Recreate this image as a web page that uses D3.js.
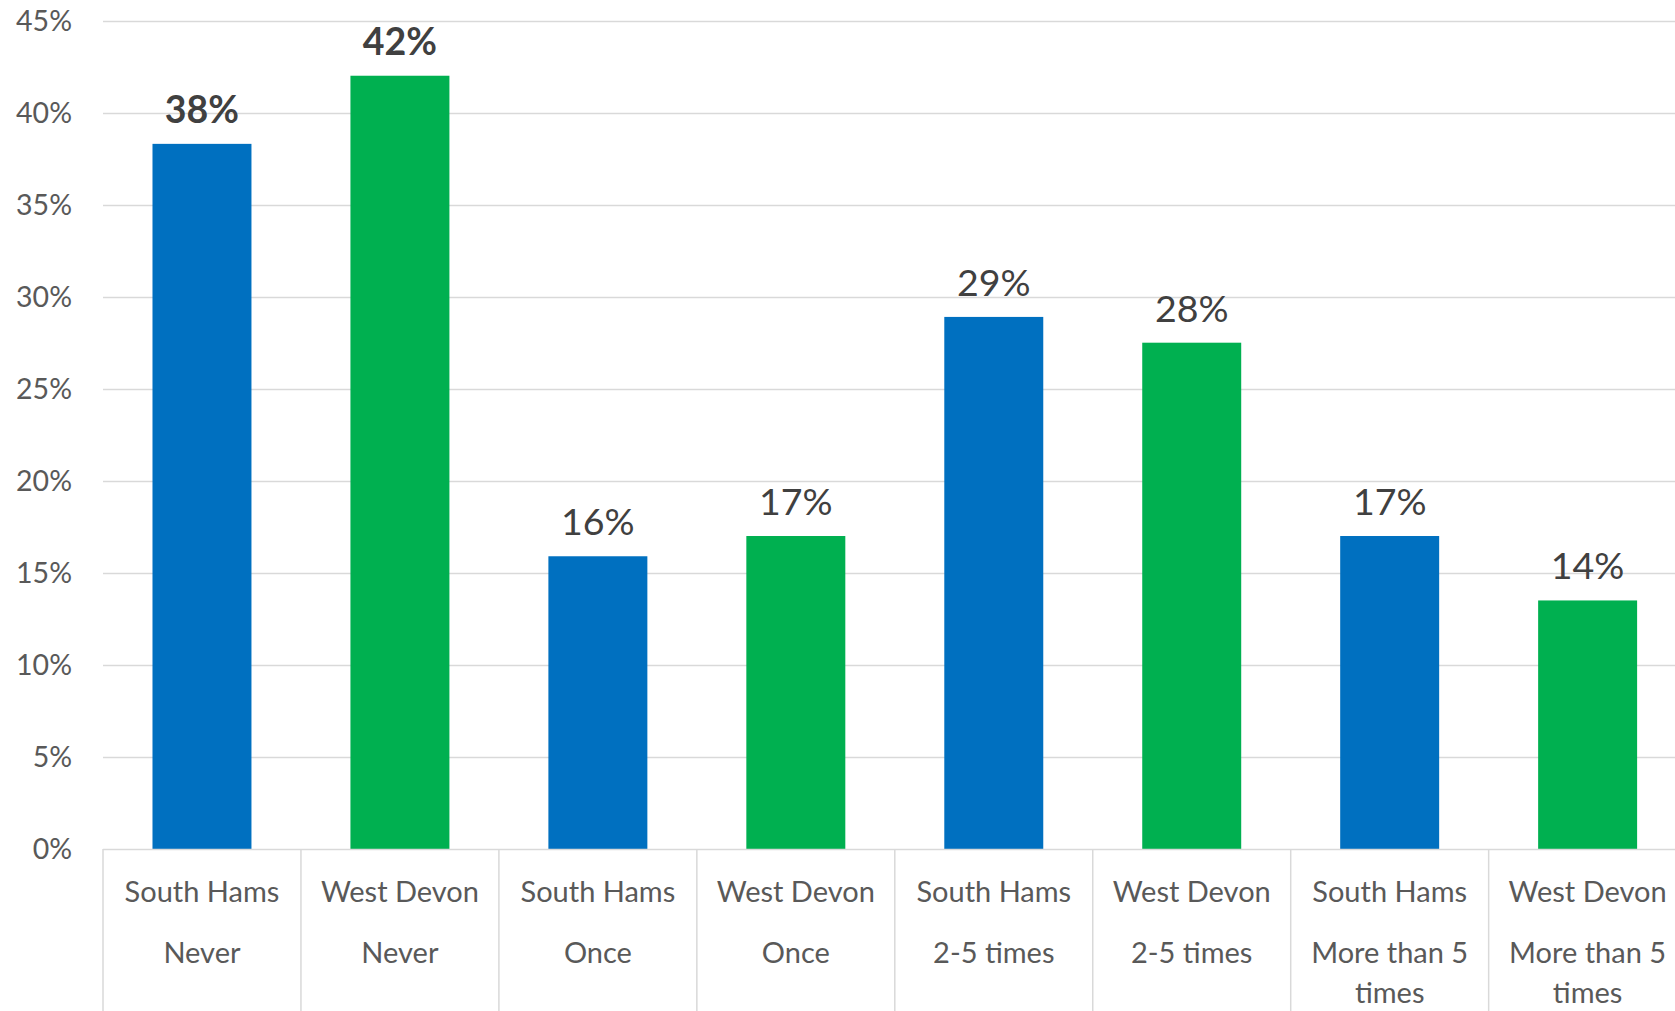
<!DOCTYPE html>
<html>
<head>
<meta charset="utf-8">
<script src="https://cdn.jsdelivr.net/npm/d3@7"></script>
<style>
  html, body { margin: 0; padding: 0; background: #fff; overflow: hidden; }
  svg { display: block; }
</style>
</head>
<body>
<svg id="chart" width="1675" height="1011"></svg>
<script>
// ---- Data ----
const regions = ["South Hams", "West Devon", "South Hams", "West Devon", "South Hams", "West Devon", "South Hams", "West Devon"];
const frequencies = [["Never"], ["Never"], ["Once"], ["Once"], ["2-5 times"], ["2-5 times"], ["More than 5", "times"], ["More than 5", "times"]];
const values = [38.3, 42.0, 15.9, 17.0, 28.9, 27.5, 17.0, 13.5];
const valueLabels = ["38%", "42%", "16%", "17%", "29%", "28%", "17%", "14%"];
const boldLabels = [true, true, false, false, false, false, false, false];
const yTicks = [0, 5, 10, 15, 20, 25, 30, 35, 40, 45];
const colors = { "South Hams": "#0070C0", "West Devon": "#00B050" };

// ---- Layout ----
const svg = d3.select("#chart");
const plotLeft = 103, bandW = 197.95;
const y0 = 849, yTop = 20.5;
const FONT = "Lato, 'Open Sans', sans-serif";

const idx = d3.range(values.length);
const x = d3.scaleBand().domain(idx).range([plotLeft, plotLeft + bandW * idx.length]).paddingInner(0).paddingOuter(0);
const y = d3.scaleLinear().domain([0, 45]).range([y0, yTop]);

// gridlines
svg.append("g").selectAll("line").data(yTicks.filter(t => t > 0)).join("line")
  .attr("x1", plotLeft).attr("x2", 1675)
  .attr("y1", d => Math.round(y(d)) + 0.5).attr("y2", d => Math.round(y(d)) + 0.5)
  .attr("stroke", "#d9d9d9").attr("stroke-width", 1.5);

// y axis labels
const yAxis = d3.axisLeft(y).tickValues(yTicks).tickFormat(d => d + "%").tickSize(0).tickPadding(0);
const ya = svg.append("g").attr("transform", "translate(72,0)").call(yAxis);
ya.select(".domain").remove();
ya.selectAll("text").attr("font-family", FONT).attr("font-size", 28.5).attr("fill", "#595959").attr("dy", "0.35em");

// bars
const barW = x.bandwidth() * 0.5;
svg.append("g").selectAll("rect").data(idx).join("rect")
  .attr("x", i => x(i) + (x.bandwidth() - barW) / 2)
  .attr("width", barW)
  .attr("y", i => y(values[i]))
  .attr("height", i => y0 - y(values[i]))
  .attr("fill", i => colors[regions[i]]);

// data labels
svg.append("g").selectAll("text").data(idx).join("text")
  .attr("x", i => x(i) + x.bandwidth() / 2)
  .attr("y", i => y(values[i]) - 21)
  .attr("text-anchor", "middle")
  .attr("font-family", FONT)
  .attr("font-size", 37.5)
  .attr("font-weight", i => boldLabels[i] ? 700 : 400)
  .attr("fill", "#404040")
  .text(i => valueLabels[i]);

// category axis: baseline and separators
svg.append("line").attr("x1", plotLeft).attr("x2", 1675).attr("y1", y0 + 0.5).attr("y2", y0 + 0.5)
  .attr("stroke", "#d9d9d9").attr("stroke-width", 1.5);
svg.append("g").selectAll("line").data(d3.range(values.length + 1)).join("line")
  .attr("x1", i => plotLeft + bandW * i).attr("x2", i => plotLeft + bandW * i)
  .attr("y1", y0).attr("y2", 1011)
  .attr("stroke", "#d9d9d9").attr("stroke-width", 1.5);

// category labels
const cat = svg.append("g").selectAll("g").data(idx).join("g")
  .attr("transform", i => `translate(${x(i) + x.bandwidth() / 2},0)`);
cat.append("text").attr("y", 892).attr("dy", "0.35em")
  .attr("text-anchor", "middle").attr("font-family", FONT).attr("font-size", 29).attr("fill", "#595959")
  .text(i => regions[i]);
cat.each(function(i) {
  const g = d3.select(this);
  frequencies[i].forEach((ln, k) => {
    g.append("text").attr("y", 953 + k * 40).attr("dy", "0.35em")
      .attr("text-anchor", "middle").attr("font-family", FONT).attr("font-size", 29).attr("fill", "#595959")
      .text(ln);
  });
});
</script>
</body>
</html>
